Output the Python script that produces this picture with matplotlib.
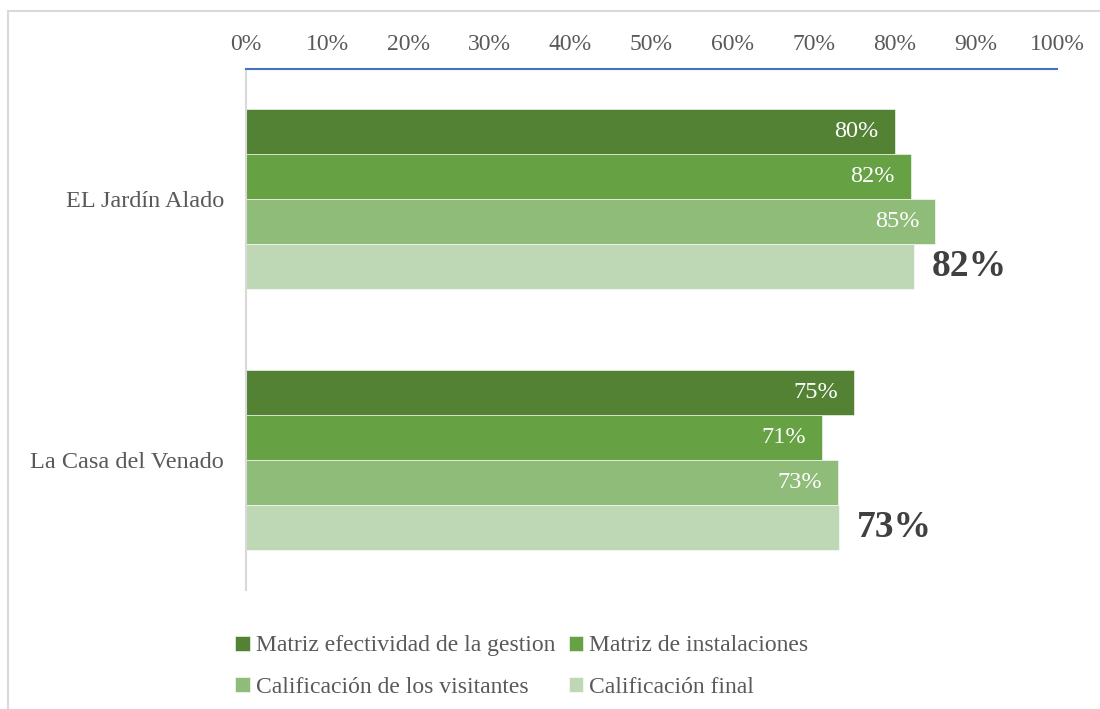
import matplotlib.pyplot as plt
import numpy as np
from matplotlib.patches import Rectangle

plt.rcParams['font.family'] = ['Liberation Serif', 'DejaVu Serif']

# datos
lugares = ["EL Jardín Alado", "La Casa del Venado"]
series = ["Matriz efectividad de la gestion", "Matriz de instalaciones",
          "Calificación de los visitantes", "Calificación final"]
gestion = [0.80, 0.75]
instalaciones = [0.82, 0.71]
visitantes = [0.85, 0.73]
final = [0.824, 0.731]
etiquetas_final = ["82%", "73%"]
ticks = [0, 0.1, 0.2, 0.3, 0.4, 0.5, 0.6, 0.7, 0.8, 0.9, 1.0]

colores = ["#548235", "#66a143", "#90bc79", "#bed7b4"]
valores = [gestion, instalaciones, visitantes, final]

fig = plt.figure(figsize=(11, 7.09), dpi=100)
ax = fig.add_axes([246 / 1100, 1 - 590 / 709, 811 / 1100, 521 / 709])

# marco gris alrededor del grafico
fig.patches.append(Rectangle((8 / 1100, -0.1), 1.2, 1 - 11 / 709 + 0.1,
                             transform=fig.transFigure, fill=False,
                             edgecolor="#d9d9d9", linewidth=1.5))

h = 0.1727
y = np.arange(len(lugares))
handles = []
for i, (vals, col) in enumerate(zip(valores, colores)):
    pos = y - 1.5 * h + i * h
    bars = ax.barh(pos, vals, height=h, color=col, edgecolor="white",
                   linewidth=0.4, label=series[i])
    handles.append(bars)
    if i < 3:
        for p, v in zip(pos, vals):
            ax.text(v - 0.02, p, f"{round(v * 100):.0f}%", ha="right",
                    va="center", color="white", fontsize=17.5)
    else:
        for p, v, t in zip(pos, vals, etiquetas_final):
            ax.text(v + 0.022, p, t, ha="left", va="center",
                    color="#404040", fontsize=27, fontweight="bold")

ax.set_xlim(0, 1)
ax.set_ylim(1.5, -0.5)
ax.xaxis.tick_top()
ax.set_xticks(ticks)
ax.set_xticklabels([f"{int(t * 100)}%" for t in ticks])
ax.set_yticks(y)
ax.set_yticklabels(lugares)
ax.tick_params(axis="x", length=0, pad=10, labelsize=17, labelcolor="#595959")
ax.tick_params(axis="y", length=0, pad=16, labelsize=17.5, labelcolor="#595959")

for s in ["right", "bottom"]:
    ax.spines[s].set_visible(False)
ax.spines["top"].set_color("#4472c4")
ax.spines["top"].set_linewidth(1.5)
ax.spines["left"].set_color("#d9d9d9")
ax.spines["left"].set_linewidth(1.5)

# orden por filas: gestion, instalaciones / visitantes, final
orden = [0, 2, 1, 3]
fig.legend([handles[k] for k in orden], [series[k] for k in orden],
           loc="upper left", bbox_to_anchor=(226 / 1100, 1 - 626 / 709),
           ncol=2, frameon=False, fontsize=17, handlelength=0.6,
           handleheight=0.6, handletextpad=0.25, columnspacing=0.6,
           labelspacing=0.88, labelcolor="#595959", borderaxespad=0)

plt.savefig("out.png", dpi=100)
